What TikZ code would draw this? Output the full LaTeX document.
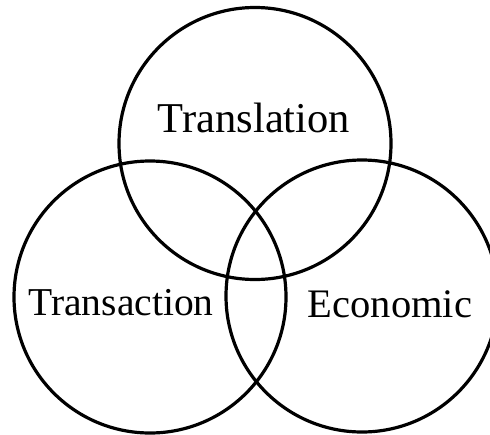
\documentclass[tikz,border=0pt]{standalone}
\usepackage{fontspec}
\setmainfont{Liberation Serif}
\begin{document}
\begin{tikzpicture}[x=1pt,y=-1pt,
  ring/.style={draw=black,line width=3.2pt,circle,inner sep=0pt,minimum size=272pt},
  lbl/.style={font=\fontsize{41}{41}\selectfont,inner sep=0pt,anchor=base}]
\useasboundingbox (0,0) rectangle (490,434);
\node[ring] (top) at (255,143.5) {};
\node[ring] (left) at (150,297) {};
\node[ring] (right) at (362,296) {};
\node[lbl,font=\fontsize{42.5}{42.5}\selectfont] (t1) at (254,132) {Translation};
\node[lbl,font=\fontsize{39.5}{39.5}\selectfont] (t2) at (121,315) {Transaction};
\node[lbl,font=\fontsize{40.5}{40.5}\selectfont] (t3) at (390,317) {Economic};
\end{tikzpicture}
\end{document}
